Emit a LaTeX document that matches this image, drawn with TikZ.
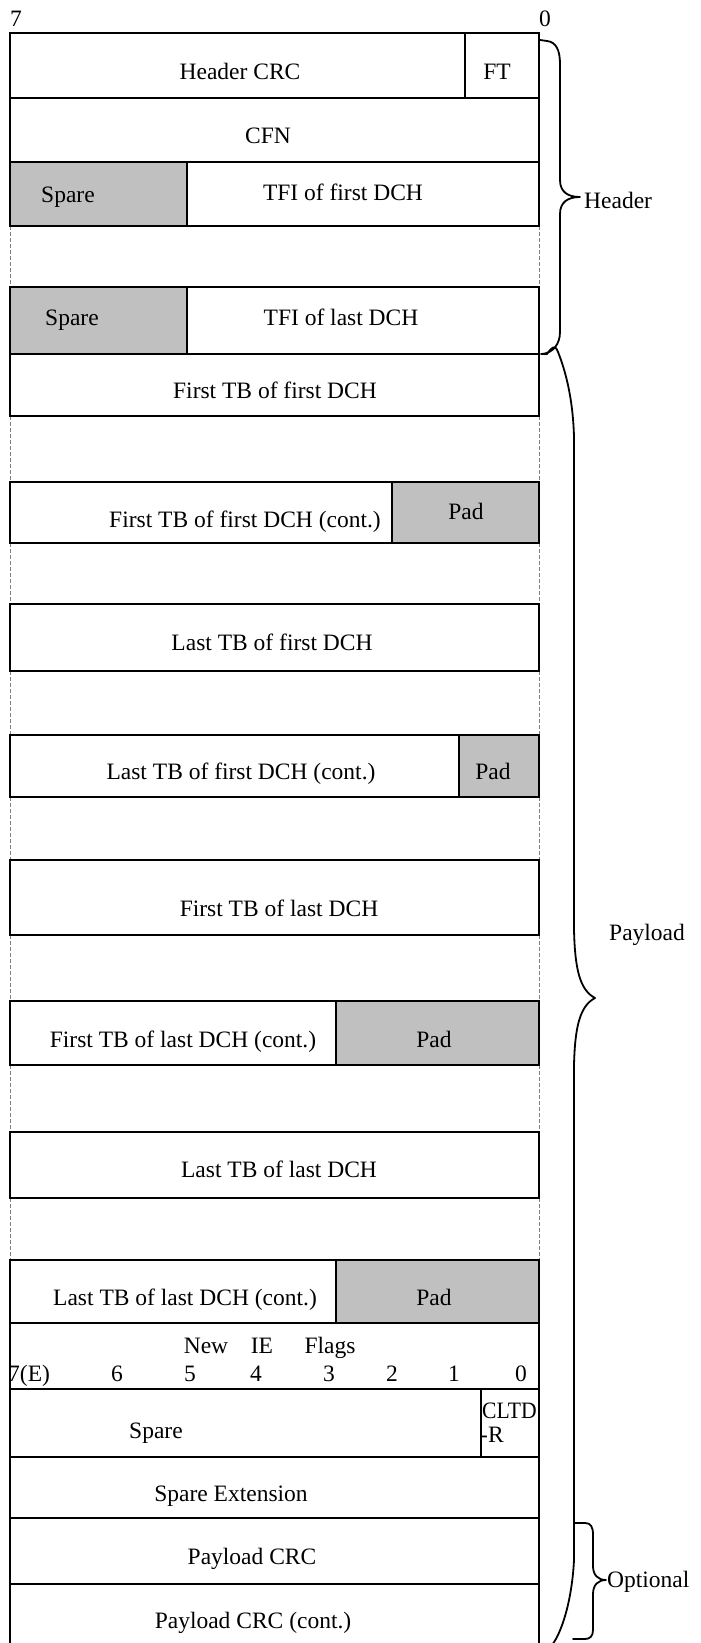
\documentclass[tikz,border=0pt]{standalone}
\usepackage{fontspec}
\setmainfont{Liberation Serif}
\definecolor{padgray}{HTML}{C0C0C0}
\begin{document}
\begin{tikzpicture}[x=1pt,y=-1pt,font=\fontsize{23.5}{28}\selectfont,
  box/.style={draw=black,line width=1.8pt},
  padfill/.style={fill=padgray},
  divider/.style={draw=black,line width=1.4pt},
  gapline/.style={draw=gray,line width=0.8pt,dash pattern=on 4pt off 2pt},
  lbl/.style={anchor=base,inner sep=0pt},
  lblw/.style={anchor=base west,inner sep=0pt},
  bracepath/.style={draw=black,line width=1.8pt,line join=round,line cap=round}]
\useasboundingbox (0,0) rectangle (701,1643);
% grey fields
\fill[padgray] (10,162) rectangle (187,226);
\fill[padgray] (10,287) rectangle (187,354);
\fill[padgray] (392,482) rectangle (539,543);
\fill[padgray] (459,735) rectangle (539,797);
\fill[padgray] (336,1001) rectangle (539,1065);
\fill[padgray] (336,1260) rectangle (539,1323);
% bit labels
\node[lbl] (b7) at (16,27) {7};
\node[lbl] (b0) at (545,27) {0};
% texts
\node[lbl] (hcrc) at (240,80) {Header CRC};
\node[lbl] (ft) at (497,80) {FT};
\node[lbl] (cfn) at (268,143.5) {CFN};
\node[lbl] (sp1) at (68,202) {Spare};
\node[lbl] (tfi1) at (343,200) {TFI of first DCH};
\node[lbl] (sp2) at (72,325) {Spare};
\node[lbl] (tfi2) at (341,325) {TFI of last DCH};
\node[lbl] (tb1) at (275,398) {First TB of first DCH};
\node[lbl] (tb1c) at (245,527) {First TB of first DCH (cont.)};
\node[lbl] (pad1) at (466,519) {Pad};
\node[lbl] (tb2) at (272,650) {Last TB of first DCH};
\node[lbl] (tb2c) at (241,779) {Last TB of first DCH (cont.)};
\node[lbl] (pad2) at (493,779) {Pad};
\node[lbl] (tb3) at (279,916) {First TB of last DCH};
\node[lbl] (tb3c) at (183,1047) {First TB of last DCH (cont.)};
\node[lbl] (pad3) at (434,1047) {Pad};
\node[lbl] (tb4) at (279,1177) {Last TB of last DCH};
\node[lbl] (tb4c) at (185,1305) {Last TB of last DCH (cont.)};
\node[lbl] (pad4) at (434,1305) {Pad};
\node[lbl] (fnew) at (206,1353) {New};
\node[lbl] (fie) at (262,1353) {IE};
\node[lbl] (fflags) at (330,1353) {Flags};
\node[lblw] (n7) at (8,1381) {7(E)};
\node[lbl] (n6) at (117,1381) {6};
\node[lbl] (n5) at (190,1381) {5};
\node[lbl] (n4) at (256,1381) {4};
\node[lbl] (n3) at (329,1381) {3};
\node[lbl] (n2) at (392,1381) {2};
\node[lbl] (n1) at (454,1381) {1};
\node[lbl] (n0) at (521,1381) {0};
\node[lbl] (sp3) at (156,1438) {Spare};
\node[lblw,xscale=0.92] (cltd) at (482,1418) {CLTD};
\node[lblw] (cltdr) at (480,1442) {-R};
\node[lbl] (spext) at (231,1501) {Spare Extension};
\node[lbl] (pcrc) at (252,1564) {Payload CRC};
\node[lbl] (pcrcc) at (253,1628) {Payload CRC (cont.)};
% gap side lines
\foreach \a/\b in {226/287,416/482,543/604,671/735,797/860,935/1001,1065/1132,1198/1260}{
  \draw[gapline] (10,\a) -- (10,\b);
  \draw[gapline] (539,\a) -- (539,\b);
}
% field boxes
\foreach \a/\b in {33/98,98/162,162/226,287/354,354/416,482/543,604/671,735/797,860/935,1001/1065,1132/1198,1260/1323,1323/1389,1389/1457,1457/1518,1518/1584,1584/1652}{
  \draw[box] (10,\a) rectangle (539,\b);
}
% dividers
\draw[divider] (465,33) -- (465,98);
\draw[divider] (187,162) -- (187,226);
\draw[divider] (187,287) -- (187,354);
\draw[divider] (392,482) -- (392,543);
\draw[divider] (459,735) -- (459,797);
\draw[divider] (336,1001) -- (336,1065);
\draw[divider] (336,1260) -- (336,1323);
\draw[divider] (481,1389) -- (481,1457);
% braces
\draw[bracepath] (540,40) -- (547,41) .. controls (556,42) and (560,50) .. (560,64)
  -- (560,180) .. controls (560,192) and (568,197) .. (580,197)
  .. controls (568,197) and (560,202) .. (560,214)
  -- (560,332) .. controls (560,344) and (553,353) .. (542,354);
\draw[bracepath] (541,354) -- (547,354) .. controls (552,347) and (555,344) .. (558,352)
  .. controls (566,372) and (573,400) .. (574,437)
  -- (574,930) .. controls (575,970) and (580,990) .. (595,998)
  .. controls (580,1006) and (575,1026) .. (574,1065)
  -- (574,1560) .. controls (572,1600) and (562,1632) .. (552,1645);
\draw[bracepath] (575,1523) -- (585,1523) .. controls (591,1523) and (593,1527) .. (593,1535)
  -- (593,1566) .. controls (593,1575) and (598,1580) .. (606,1580)
  .. controls (598,1580) and (593,1585) .. (593,1594)
  -- (593,1630) .. controls (593,1636) and (590,1639) .. (585,1639) -- (573,1639);
\node[lblw] (hdr) at (584,208) {Header};
\node[lblw] (pay) at (609,940) {Payload};
\node[lblw] (opt) at (607,1587) {Optional};
\end{tikzpicture}
\end{document}
